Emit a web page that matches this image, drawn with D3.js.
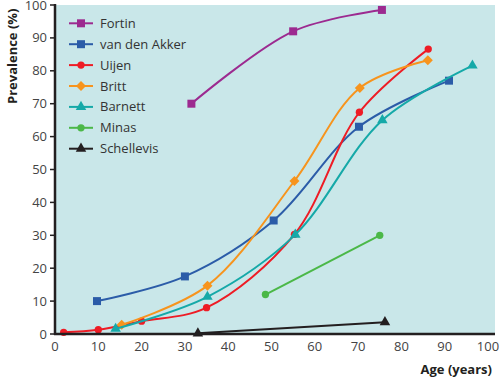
<!DOCTYPE html>
<html><head><meta charset="utf-8">
<script src="https://cdn.jsdelivr.net/npm/d3@7"></script>
<style>body{margin:0;background:#fff}svg{display:block}text{font-family:"Open Sans","Noto Sans",sans-serif}</style>
</head><body>
<script>
const seriesNames = ["Fortin","van den Akker","Uijen","Britt","Barnett","Minas","Schellevis"];
const fortin = [[31.5,70],[55,92],[75.5,98.5]];
const vanDenAkker = [[9.7,10],[30,17.5],[50.5,34.5],[70.2,63],[91,77]];
const uijen = [[2,0.5],[10,1.3],[20,3.9],[35,8],[55.3,30.3],[70.3,67.4],[86.2,86.6]];
const britt = [[15.4,2.8],[35.2,14.7],[55.3,46.5],[70.4,74.8],[86.1,83.2]];
const barnett = [[14,1.6],[35.2,11.3],[55.5,30.2],[75.6,65],[96.4,81.6]];
const minas = [[48.6,12],[75,30]];
const schellevis = [[33,0.2],[76.2,3.6]];
const xTicks = [0,10,20,30,40,50,60,70,80,90,100];
const yTicks = [0,10,20,30,40,50,60,70,80,90,100];

const series = [
  {name:seriesNames[0], data:fortin, color:"#9c2a90", shape:"square", curve:true},
  {name:seriesNames[1], data:vanDenAkker, color:"#2b5ca8", shape:"square", curve:true},
  {name:seriesNames[2], data:uijen, color:"#ee1c25", shape:"circle", curve:true},
  {name:seriesNames[3], data:britt, color:"#f7941d", shape:"diamond", curve:true},
  {name:seriesNames[4], data:barnett, color:"#15a9a8", shape:"triangle", curve:true},
  {name:seriesNames[5], data:minas, color:"#4bb848", shape:"circle", curve:false},
  {name:seriesNames[6], data:schellevis, color:"#231f20", shape:"triangle", curve:false}
];

const W=502,H=380;
const svg=d3.select("body").append("svg").attr("width",W).attr("height",H);
const x=d3.scaleLinear().domain([0,100]).range([55,488]);
const y=d3.scaleLinear().domain([0,100]).range([334,5]);

svg.append("rect").attr("x",55).attr("y",5).attr("width",440).attr("height",329).attr("fill","#c9e7e9");

const symSize={square:64,circle:42,diamond:50,triangle:48};
const symType={square:d3.symbolSquare,circle:d3.symbolCircle,diamond:d3.symbolSquare,triangle:d3.symbolTriangle};
const rot=s=>s==="diamond"?" rotate(45)":"";

const g=svg.append("g");
series.forEach(s=>{
  const line=d3.line().x(d=>x(d[0])).y(d=>y(d[1])).curve(s.curve?d3.curveCatmullRom.alpha(0.5):d3.curveLinear);
  g.append("path").attr("d",line(s.data)).attr("fill","none").attr("stroke",s.color).attr("stroke-width",2);
  g.selectAll(null).data(s.data).enter().append("path")
    .attr("transform",d=>`translate(${x(d[0])},${y(d[1])})`+rot(s.shape))
    .attr("d",d3.symbol().type(symType[s.shape]).size(symSize[s.shape]))
    .attr("fill",s.color);
});

// axes
svg.append("line").attr("x1",55).attr("x2",55).attr("y1",4).attr("y2",335).attr("stroke","#231f20").attr("stroke-width",2.5);
svg.append("line").attr("x1",54).attr("x2",495).attr("y1",334).attr("y2",334).attr("stroke","#231f20").attr("stroke-width",2.5);
yTicks.forEach(t=>{
  svg.append("line").attr("x1",50).attr("x2",55).attr("y1",y(t)).attr("y2",y(t)).attr("stroke","#231f20").attr("stroke-width",1.5);
  svg.append("text").attr("x",47).attr("y",y(t)+4.5).attr("text-anchor","end").attr("font-size",13).attr("fill","#444").text(t);
});
xTicks.forEach(t=>{
  svg.append("text").attr("x",x(t)).attr("y",351).attr("text-anchor","middle").attr("font-size",13).attr("fill","#444").text(t);
});
svg.append("text").attr("transform","translate(17,104) rotate(-90)").attr("font-size",13).attr("font-weight","bold").attr("fill","#231f20").text("Prevalence (%)");
svg.append("text").attr("x",492).attr("y",374).attr("text-anchor","end").attr("font-size",13).attr("font-weight","bold").attr("fill","#231f20").text("Age (years)");

// legend
series.forEach((s,i)=>{
  const ly=23.3+i*20.9;
  svg.append("line").attr("x1",69).attr("x2",93).attr("y1",ly).attr("y2",ly).attr("stroke",s.color).attr("stroke-width",2);
  svg.append("path").attr("transform",`translate(81,${ly})`+rot(s.shape)).attr("d",d3.symbol().type(symType[s.shape]).size(symSize[s.shape])).attr("fill",s.color);
  svg.append("text").attr("x",100).attr("y",ly+4.5).attr("font-size",13).attr("fill","#333").text(s.name);
});
</script>
</body></html>
